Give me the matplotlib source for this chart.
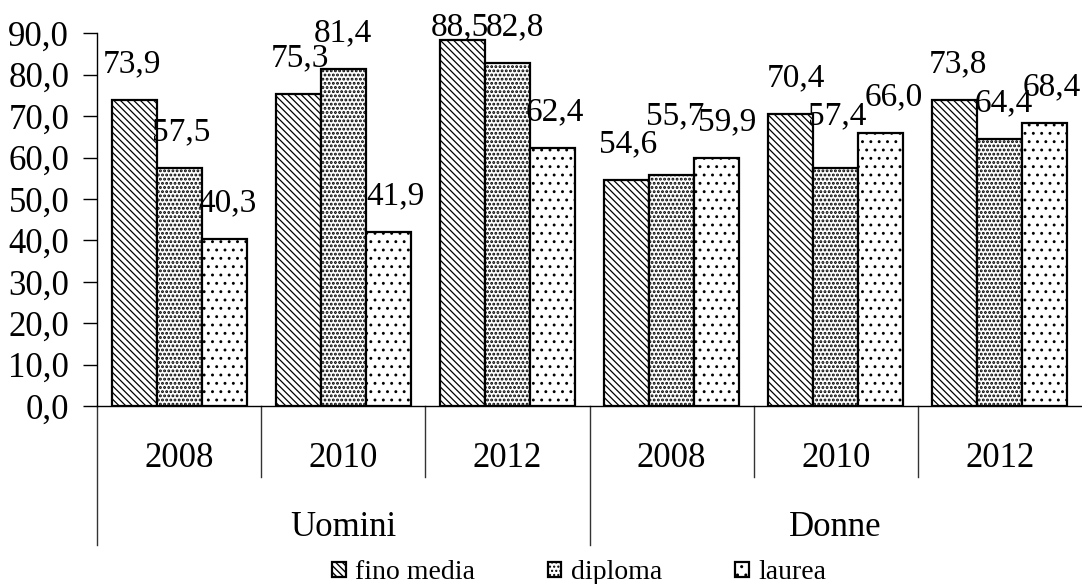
import numpy as np
import matplotlib as mpl
import matplotlib.pyplot as plt
from matplotlib.transforms import blended_transform_factory

plt.rcParams['font.family'] = ['Liberation Serif', 'DejaVu Serif']

years = ['2008', '2010', '2012', '2008', '2010', '2012']
groups = ['Uomini', 'Donne']
series = ['fino media', 'diploma', 'laurea']

fino_media = [73.9, 75.3, 88.5, 54.6, 70.4, 73.8]
diploma = [57.5, 81.4, 82.8, 55.7, 57.4, 64.4]
laurea = [40.3, 41.9, 62.4, 59.9, 66.0, 68.4]

values = [fino_media, diploma, laurea]
hatches = ['\\\\\\\\\\', '....', '..']
hatch_lw = [0.9, 1.4, 0.9]

# value label offsets in pixels (horizontal per label, vertical lift where crowded)
label_dx = [[-2, 2, -3, 2, 5, 3],
            [2, 0, 8, 4, 1, 4],
            [3, 7, 2, 11, 13, 7]]
label_lift = {(1, 3): 23, (1, 4): 16}
label_top = 91.5

fig = plt.figure(figsize=(10.82, 5.84), dpi=100)
ax = fig.add_axes([97 / 1082, 1 - 406 / 584, 1 - 97 / 1082, (406 - 33.3) / 584])

x = np.arange(len(years))
w = 0.274
for i, (vals, h) in enumerate(zip(values, hatches)):
    pos = x + (i - 1) * w
    with mpl.rc_context({'hatch.linewidth': hatch_lw[i]}):
        ax.bar(pos, vals, w, facecolor='white', edgecolor='black', hatch=h,
               linewidth=1.6, label=series[i], zorder=2)
    for j, v in enumerate(vals):
        base = min(v, label_top - 36 / 4.144)
        ax.annotate(f'{v:.1f}'.replace('.', ','), (pos[j], base),
                    xytext=(label_dx[i][j], 36 + label_lift.get((i, j), 0)),
                    textcoords='offset pixels', ha='center', va='center',
                    fontsize=24, annotation_clip=False)

ax.set_xlim(-0.5, len(years) - 0.5)
ax.set_ylim(0, 90)
ax.set_yticks(np.arange(0, 91, 10))
ax.set_yticklabels([f'{t:.1f}'.replace('.', ',') for t in np.arange(0, 91, 10)],
                   fontsize=25)
ax.tick_params(axis='y', direction='out', length=10, width=1, pad=10)
ax.set_xticks(x)
ax.set_xticklabels(years, fontsize=25)
ax.tick_params(axis='x', length=0, pad=26)

for s in ['top', 'right']:
    ax.spines[s].set_visible(False)
for s in ['left', 'bottom']:
    ax.spines[s].set_linewidth(1.0)

# two-level category axis
tr = blended_transform_factory(ax.transData, ax.transAxes)
for b in np.arange(-0.5, len(years) - 1, 1.0):
    long_line = b in (-0.5, 2.5)
    y_end = -0.373 if long_line else -0.19
    ax.plot([b, b], [0, y_end], color='#333333', lw=1.0, transform=tr, clip_on=False)
for k, g in enumerate(groups):
    ax.text(1 + 3 * k, -0.325, g, transform=tr, ha='center', va='center', fontsize=25)

ax.legend(loc='lower center', bbox_to_anchor=(579 / 1082, -0.045),
          bbox_transform=fig.transFigure, ncol=3, frameon=False, fontsize=20,
          handlelength=0.5, handleheight=0.5, handletextpad=0.35, columnspacing=2.6)

plt.savefig('out.png', dpi=100)
